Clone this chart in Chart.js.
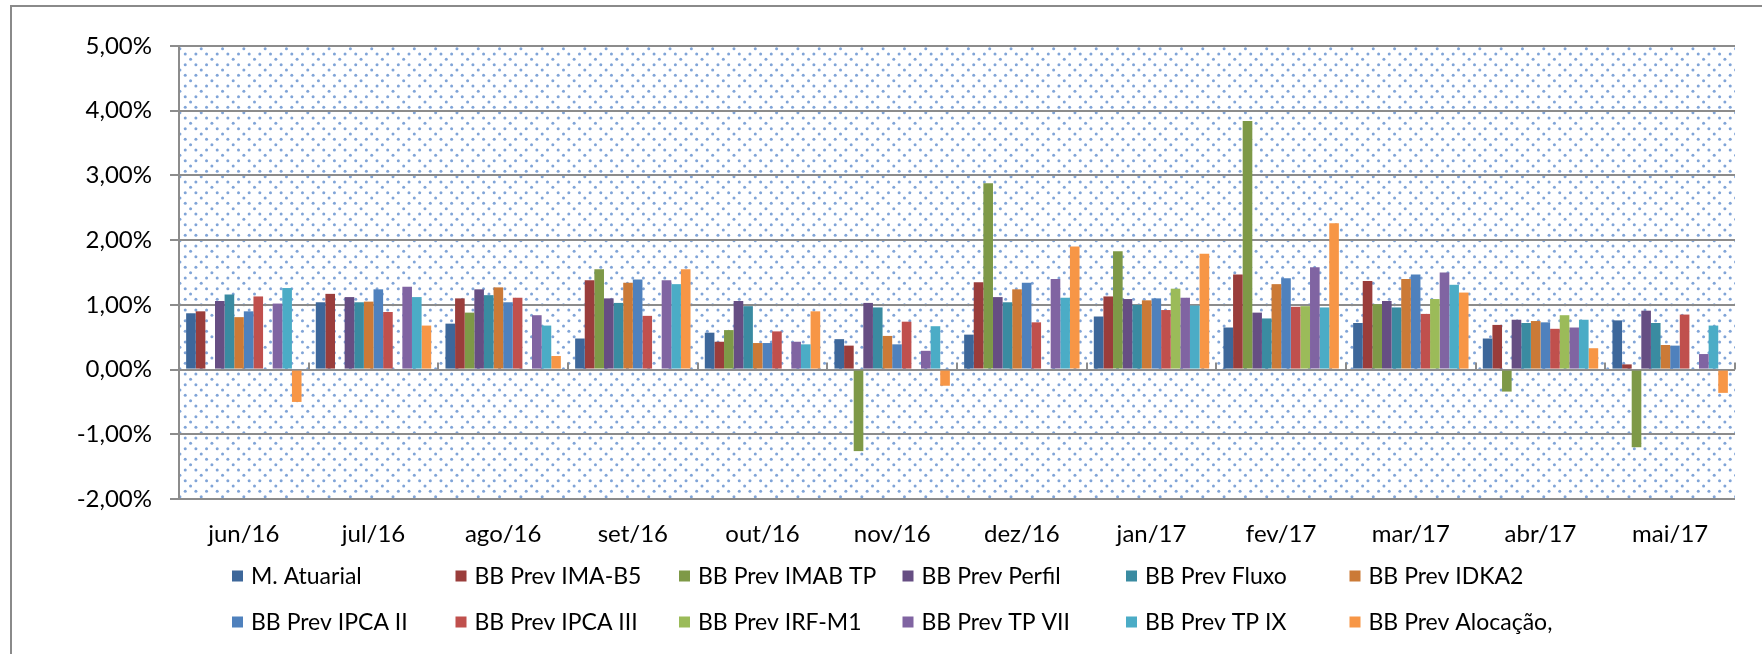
<!DOCTYPE html>
<html>
<head>
<meta charset="utf-8">
<style>
html,body{margin:0;padding:0;background:#fff;}
#wrap{position:relative;width:1762px;height:654px;overflow:hidden;}
canvas{display:block;}
</style>
<script src="https://cdn.jsdelivr.net/npm/chart.js@4.4.1/dist/chart.umd.min.js"></script>
</head>
<body>
<div id="wrap"><canvas id="c" width="1762" height="654"></canvas></div>
<script>
// ---- data (monthly returns, %) ----
const categories = ["jun/16","jul/16","ago/16","set/16","out/16","nov/16","dez/16","jan/17","fev/17","mar/17","abr/17","mai/17"];
const yTicks = [-2, -1, 0, 1, 2, 3, 4, 5];

const mAtuarial   = [0.87, 1.04, 0.71, 0.48, 0.57, 0.47, 0.54, 0.82, 0.65, 0.72, 0.48, 0.76];
const imaB5       = [0.90, 1.17, 1.10, 1.38, 0.43, 0.37, 1.35, 1.13, 1.47, 1.37, 0.69, 0.08];
const imabTP      = [null, null, 0.88, 1.55, 0.61, -1.26, 2.88, 1.83, 3.84, 1.01, -0.34, -1.20];
const perfil      = [1.06, 1.12, 1.24, 1.10, 1.06, 1.03, 1.12, 1.09, 0.88, 1.06, 0.77, 0.91];
const fluxo       = [1.16, 1.04, 1.15, 1.03, 0.98, 0.96, 1.04, 1.00, 0.79, 0.96, 0.72, 0.72];
const idka2       = [0.81, 1.05, 1.27, 1.34, 0.41, 0.52, 1.24, 1.07, 1.32, 1.40, 0.75, 0.38];
const ipcaII      = [0.90, 1.24, 1.04, 1.39, 0.41, 0.39, 1.34, 1.10, 1.41, 1.47, 0.73, 0.37];
const ipcaIII     = [1.13, 0.89, 1.11, 0.83, 0.59, 0.74, 0.73, 0.92, 0.97, 0.86, 0.63, 0.85];
const irfM1       = [null, null, null, null, null, null, null, 1.25, 0.98, 1.09, 0.84, null];
const tpVII       = [1.02, 1.28, 0.84, 1.38, 0.43, 0.29, 1.40, 1.11, 1.58, 1.50, 0.65, 0.24];
const tpIX        = [1.26, 1.12, 0.68, 1.32, 0.39, 0.67, 1.11, 0.99, 0.96, 1.31, 0.77, 0.68];
const alocacao    = [-0.50, 0.68, 0.21, 1.55, 0.90, -0.25, 1.90, 1.79, 2.26, 1.19, 0.33, -0.36];

const seriesNames = ["M. Atuarial","BB Prev IMA-B5","BB Prev IMAB TP","BB Prev Perfil","BB Prev Fluxo","BB Prev IDKA2",
                     "BB Prev IPCA II","BB Prev IPCA III","BB Prev IRF-M1","BB Prev TP VII","BB Prev TP IX","BB Prev Alocação,"];
const seriesValues = [mAtuarial, imaB5, imabTP, perfil, fluxo, idka2, ipcaII, ipcaIII, irfM1, tpVII, tpIX, alocacao];
const seriesColors = ["#3D679A","#9A3D3B","#7E9947","#664E83","#3A8BA1","#CB7A37",
                      "#4F81BD","#C0504D","#9BBB59","#8064A2","#4BACC6","#F79646"];

const FONT = "Lato, 'Open Sans', sans-serif";
const GRID = "#8c8c8c";

const bgPlugin = {
  id: "bgPlugin",
  beforeDraw(chart) {
    const ctx = chart.ctx, a = chart.chartArea;
    ctx.save();
    ctx.fillStyle = "#fff";
    ctx.fillRect(0, 0, chart.width, chart.height);
    // outer frame (top & left visible)
    ctx.strokeStyle = "#8a8a8a";
    ctx.lineWidth = 2;
    ctx.beginPath();
    ctx.moveTo(11, chart.height + 5);
    ctx.lineTo(11, 6);
    ctx.lineTo(chart.width + 5, 6);
    ctx.stroke();
    // dotted fill pattern of plot area
    ctx.beginPath();
    ctx.rect(a.left, a.top, a.right - a.left, a.bottom - a.top);
    ctx.clip();
    const sx = 10.655, sy = 5.333;
    const x0 = 409, y0 = 64.7;
    ctx.fillStyle = "rgba(79,129,200,0.72)";
    const kStart = Math.floor((a.top - y0) / sy) - 1;
    const kEnd = Math.ceil((a.bottom - y0) / sy) + 1;
    for (let k = kStart; k <= kEnd; k++) {
      const y = y0 + k * sy;
      const m = ((k % 4) + 4) % 4;
      let step, off;
      if (m === 0 || m === 2) { step = sx; off = x0; }
      else if (m === 1) { step = 2 * sx; off = x0 + sx / 2; }
      else { step = 2 * sx; off = x0 - sx / 2; }
      const jStart = Math.floor((a.left - off) / step) - 1;
      const jEnd = Math.ceil((a.right - off) / step) + 1;
      for (let j = jStart; j <= jEnd; j++) {
        const x = off + j * step;
        ctx.beginPath();
        ctx.arc(x, y, 1.5, 0, Math.PI * 2);
        ctx.fill();
      }
    }
    ctx.restore();
  }
};

const axisTickPlugin = {
  id: "axisTickPlugin",
  afterDatasetsDraw(chart) {
    const ctx = chart.ctx, xs = chart.scales.x, ys = chart.scales.y;
    const zero = ys.getPixelForValue(0);
    const n = categories.length;
    const w = (xs.right - xs.left) / n;
    ctx.save();
    ctx.strokeStyle = GRID;
    ctx.lineWidth = 2;
    for (let i = 1; i <= n; i++) {
      const x = Math.round(xs.left + i * w);
      ctx.beginPath();
      ctx.moveTo(x, zero - 7);
      ctx.lineTo(x, zero);
      ctx.stroke();
    }
    ctx.restore();
  }
};

const legendPlugin = {
  id: "legendPlugin",
  afterDraw(chart) {
    const ctx = chart.ctx;
    ctx.save();
    ctx.font = "23px " + FONT;
    ctx.textBaseline = "middle";
    ctx.textAlign = "left";
    const colX = [232, 455.5, 679, 902.5, 1126, 1349.5];
    const rowY = [576, 622];
    chart.data.datasets.forEach((ds, i) => {
      const r = Math.floor(i / 6), c = i % 6;
      const x = colX[c], y = rowY[r];
      ctx.fillStyle = ds.backgroundColor;
      ctx.fillRect(x, y - 5.5, 11, 11);
      ctx.fillStyle = "#000";
      ctx.fillText(ds.label, x + 19, y + 1);
    });
    ctx.restore();
  }
};

new Chart(document.getElementById("c"), {
  type: "bar",
  data: {
    labels: categories,
    datasets: seriesNames.map((name, i) => ({
      label: name,
      data: seriesValues[i],
      backgroundColor: seriesColors[i],
      borderWidth: 0,
      categoryPercentage: 0.89,
      barPercentage: 1.0
    }))
  },
  options: {
    responsive: false,
    devicePixelRatio: 1,
    animation: false,
    layout: { padding: { top: 46, right: 27, left: 0, bottom: 0 } },
    plugins: { legend: { display: false }, tooltip: { enabled: false } },
    scales: {
      x: {
        grid: { display: false, drawTicks: false },
        border: { display: false },
        ticks: { font: { family: FONT, size: 24 }, color: "#000", padding: 21, maxRotation: 0 },
        afterFit(s) { s.height = 155; }
      },
      y: {
        min: yTicks[0],
        max: yTicks[yTicks.length - 1],
        afterBuildTicks(s) { s.ticks = yTicks.map(v => ({ value: v })); },
        grid: { color: GRID, lineWidth: 2, tickLength: 9, drawTicks: true },
        border: { display: true, color: GRID, width: 2 },
        ticks: {
          font: { family: FONT, size: 24 }, color: "#000", padding: 18,
          callback: v => v.toFixed(2).replace(".", ",") + "%"
        },
        afterFit(s) { s.width = 179; }
      }
    }
  },
  plugins: [bgPlugin, axisTickPlugin, legendPlugin]
});
</script>
</body>
</html>
